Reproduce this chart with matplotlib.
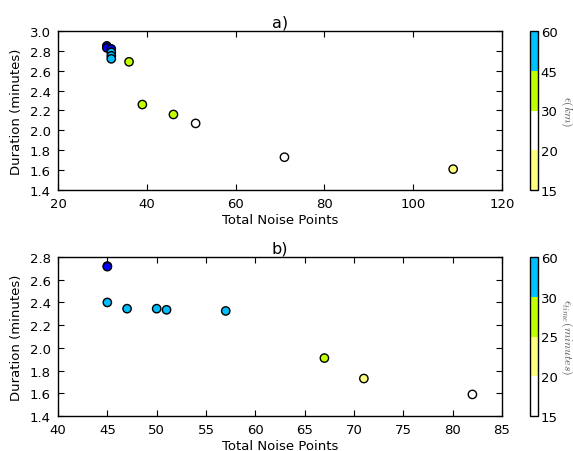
import matplotlib
matplotlib.use("Agg")
import matplotlib.pyplot as plt
from matplotlib.colors import ListedColormap, BoundaryNorm
import numpy as np

# Panel a) data
a_noise = [31, 31, 32, 32, 32, 32, 36, 39, 46, 51, 71, 109]
a_duration = [2.85, 2.83, 2.82, 2.785, 2.75, 2.72, 2.69, 2.26, 2.16, 2.07, 1.73, 1.61]
a_eps = [70, 70, 70, 50, 50, 50, 35, 35, 35, 25, 25, 17]
a_bounds = [15, 20, 30, 45, 60]
a_colors = ['#ffff80', '#ffffff', '#bfff00', '#00bfff']

# Panel b) data
b_noise = [45, 45, 45, 47, 50, 51, 57, 67, 71, 82]
b_duration = [2.72, 2.715, 2.40, 2.345, 2.345, 2.335, 2.325, 1.91, 1.73, 1.59]
b_eps = [70, 70, 40, 40, 40, 40, 40, 27, 22, 17]
b_bounds = [15, 20, 25, 30, 60]
b_colors = ['#ffffff', '#ffff80', '#bfff00', '#00bfff']
over_color = '#0000ff'

plt.rcParams.update({
    'font.family': 'DejaVu Sans',
    'font.size': 9.5,
    'mathtext.fontset': 'cm',
    'xtick.direction': 'in',
    'ytick.direction': 'in',
    'xtick.top': True,
    'ytick.right': True,
    'xtick.major.size': 4,
    'ytick.major.size': 4,
    'xtick.major.pad': 5,
    'ytick.major.pad': 5,
    'axes.linewidth': 1.0,
})

W, H = 5.73, 4.52
fig = plt.figure(figsize=(W, H), dpi=100)

def box(l, t, r, b):
    return [l / 573, 1 - b / 452, (r - l) / 573, (b - t) / 452]

def panel(ax_rect, cb_rect, x, y, c, bounds, colors, xlim, xticks, ylim, yticks, title, cblabel):
    ax = fig.add_axes(box(*ax_rect))
    cmap = ListedColormap(colors)
    cmap.set_over(over_color)
    norm = BoundaryNorm(bounds, cmap.N)
    sc = ax.scatter(x, y, c=c, cmap=cmap, norm=norm, s=36, edgecolors='black', linewidths=1.0, zorder=3)
    ax.set_xlim(*xlim)
    ax.set_ylim(*ylim)
    ax.set_xticks(xticks)
    ax.set_yticks(yticks)
    ax.set_xticklabels([str(t) for t in xticks])
    ax.set_yticklabels(['%.1f' % t for t in yticks])
    ax.set_xlabel('Total Noise Points', labelpad=2)
    ax.set_ylabel('Duration (minutes)', labelpad=5)
    ax.set_title(title, fontsize=11.5, pad=3)
    cax = fig.add_axes(box(*cb_rect))
    cb = fig.colorbar(sc, cax=cax, boundaries=bounds, ticks=bounds, spacing='uniform', extend='neither')
    cb.outline.set_linewidth(1.0)
    cax.tick_params(length=0, pad=2, labelsize=9.5)
    cb.set_label(cblabel, rotation=270, fontsize=8.5, color='#555555', labelpad=12)
    return ax

panel((58, 32, 502, 191), (530, 32, 538, 191), a_noise, a_duration, a_eps, a_bounds, a_colors,
      (20, 120), [20, 40, 60, 80, 100, 120], (1.4, 3.0), list(np.round(np.arange(1.4, 3.01, 0.2), 1)),
      'a)', r'$\epsilon(km)$')
panel((58, 258, 502, 417), (530, 258, 538, 417), b_noise, b_duration, b_eps, b_bounds, b_colors,
      (40, 85), [40, 45, 50, 55, 60, 65, 70, 75, 80, 85], (1.4, 2.8), list(np.round(np.arange(1.4, 2.81, 0.2), 1)),
      'b)', r'$\epsilon_{time}(minutes)$')

fig.savefig('out.png', dpi=100)
